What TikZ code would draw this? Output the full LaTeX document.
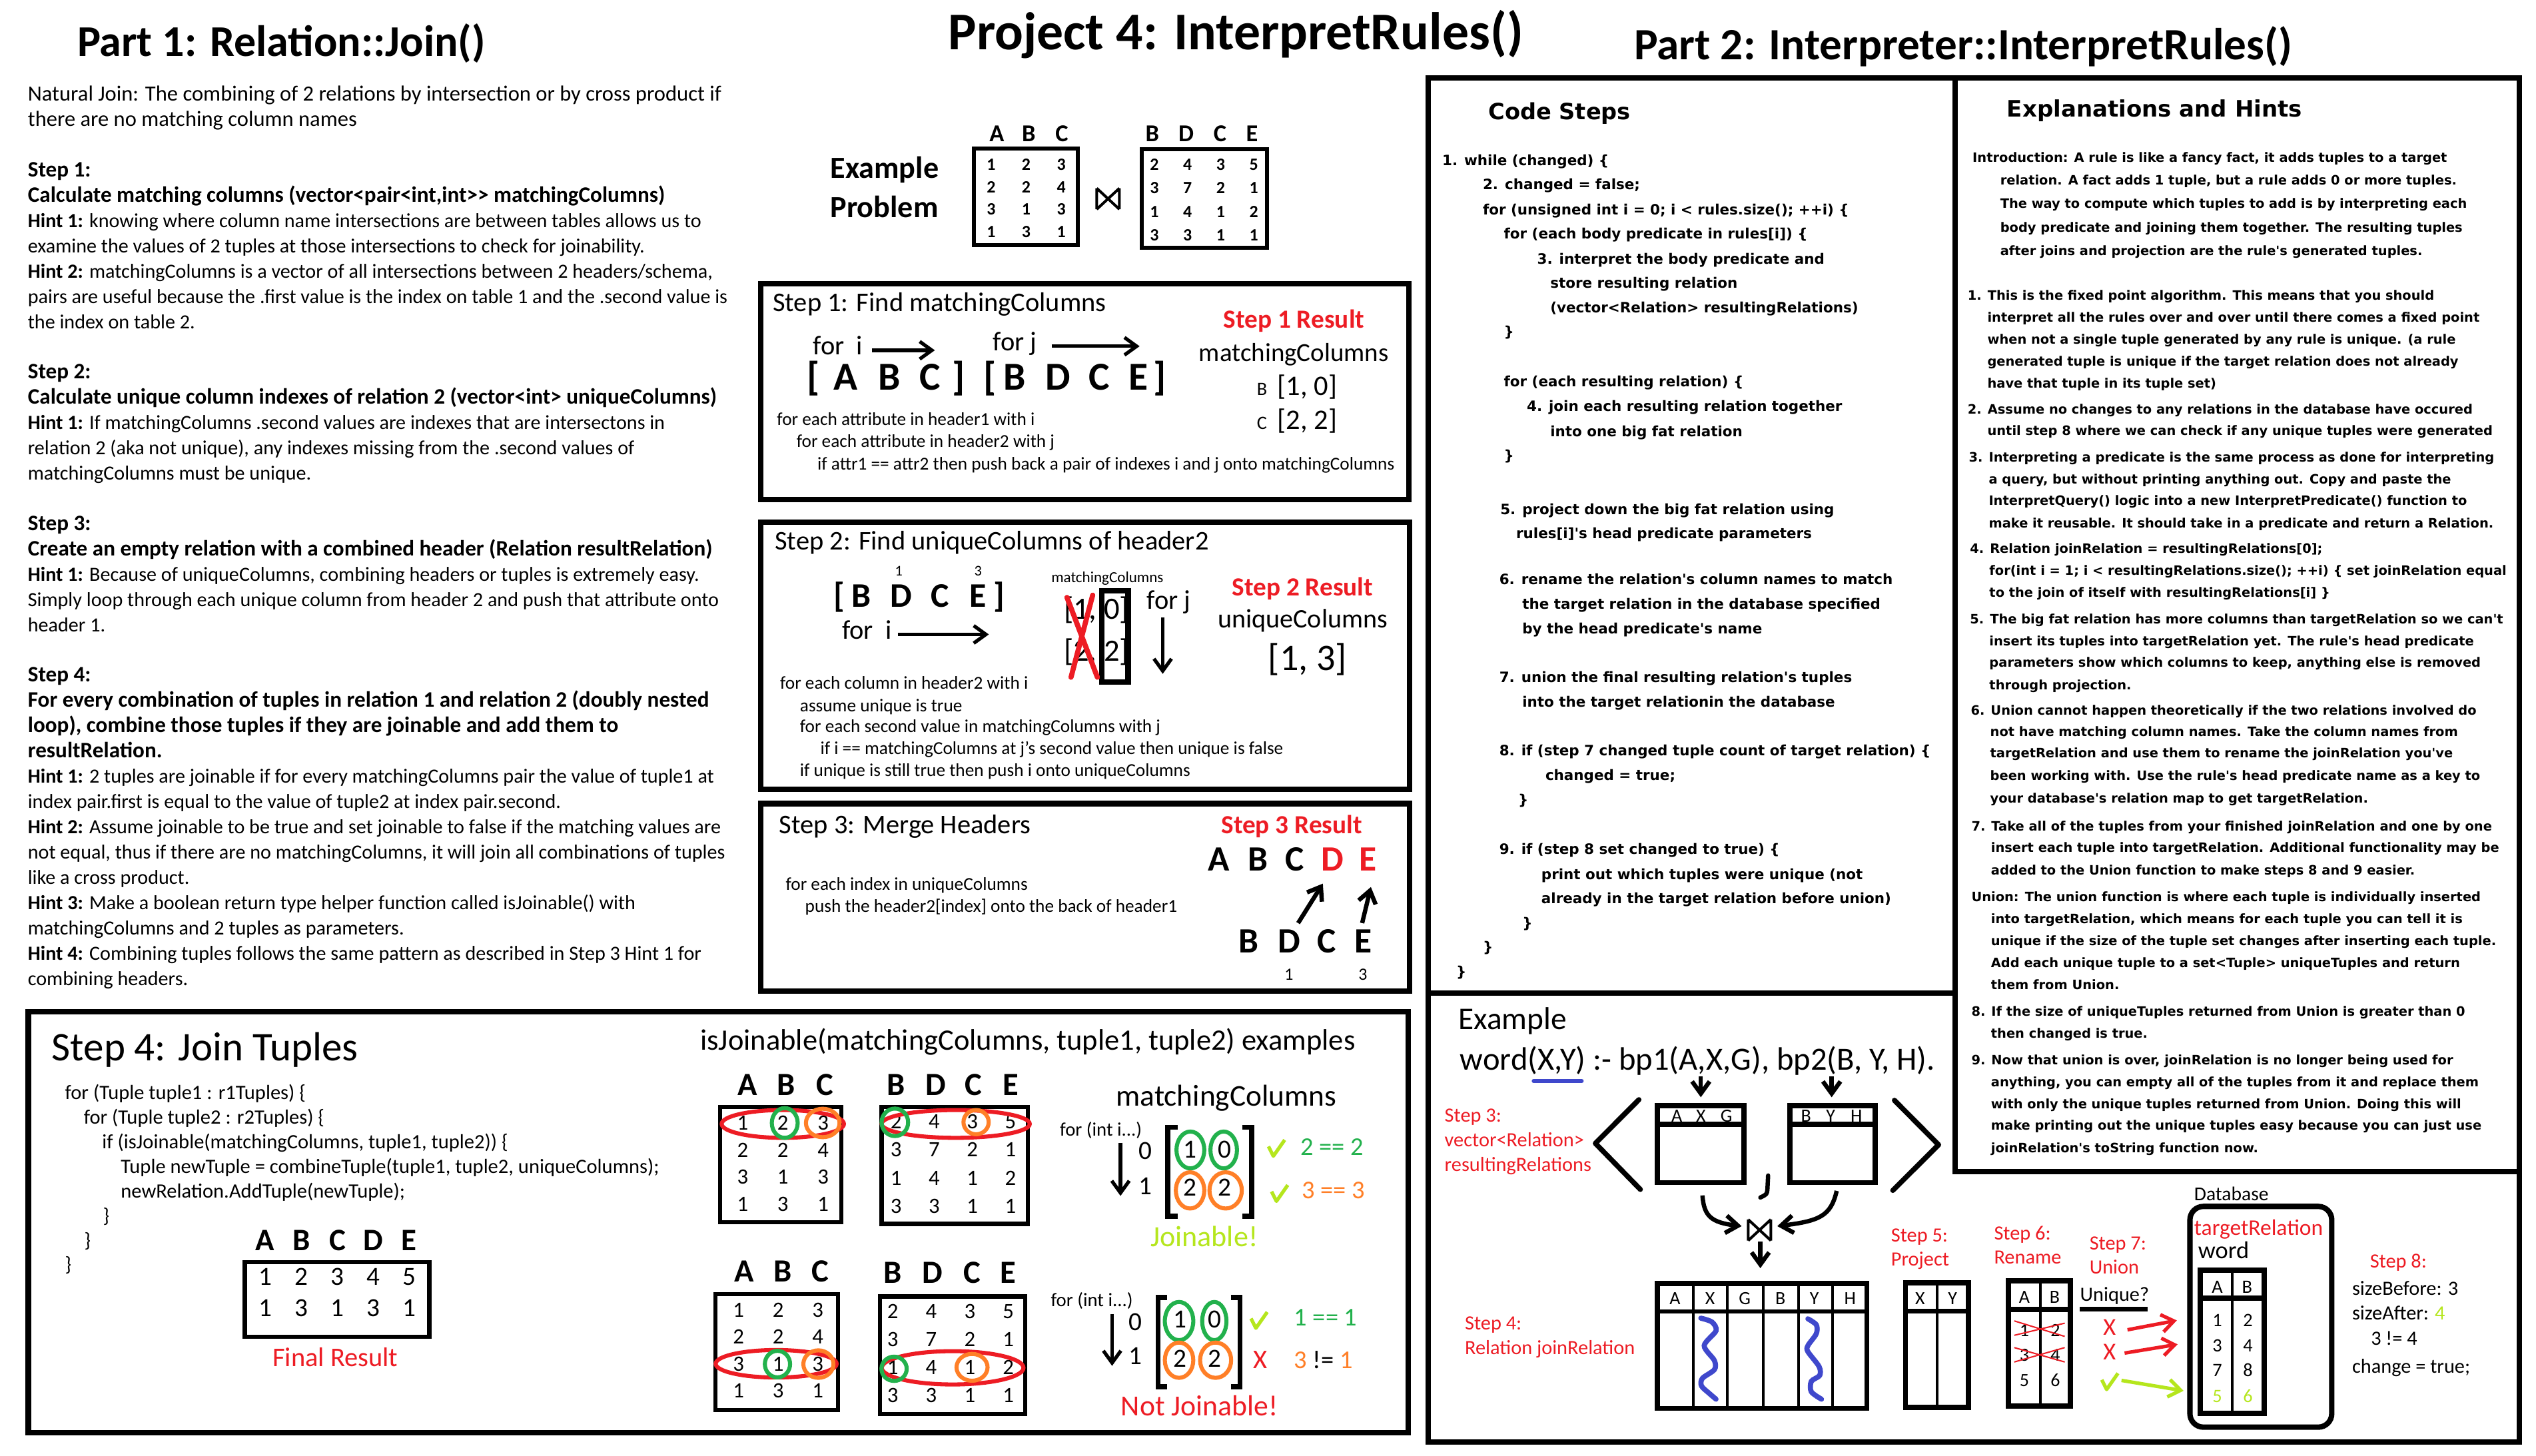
\documentclass[tikz,border=0pt]{standalone}
\usepackage{fontspec}
\setmainfont{Carlito}
\newfontfamily\cs{DejaVu Sans}
\usetikzlibrary{arrows.meta}

\definecolor{pred}{RGB}{237,28,36}
\definecolor{pgreen}{RGB}{34,177,76}
\definecolor{porange}{RGB}{255,127,39}
\definecolor{plime}{RGB}{181,230,29}
\definecolor{pblue}{RGB}{63,72,204}

\newcommand\fsz[1]{\fontsize{#1}{#1}\selectfont}
\newcommand\bl[1]{{\bfseries\fsz{8.2}#1}}
% grid of table values
\newcommand\grid[7][]{%
  \foreach \row [count=\i from 0] in {#7}{%
    \foreach \v [count=\j from 0] in \row
      \node[val,#1] (#2\i\j) at ({#3+\j*#4},{#5+\i*#6}) {\v};}}
% row of column names
\newcommand\hdrow[4][]{%
  \foreach \h/\x in {#4}
    \node[val,#1] (#2\h) at (\x,#3) {\h};}

\tikzset{
  every node/.style={inner sep=0pt},
  lft/.style={anchor=mid west, font=\fsz{7.45}},
  cd/.style={anchor=mid west, font=\cs\bfseries\fsz{5.3}},
  hnt/.style={anchor=mid west, font=\cs\bfseries\fsz{4.8}},
  sm/.style={anchor=mid west, font=\fsz{6.75}},
  stephd/.style={anchor=mid west, font=\fsz{10}},
  reshd/.style={anchor=mid west, font=\bfseries\fsz{9.7}, text=pred},
  redlbl/.style={anchor=mid west, font=\fsz{7.5}, text=pred},
  plain/.style={anchor=mid west, font=\fsz{7.5}},
  val/.style={anchor=mid},
  panel/.style={line width=2pt},
  tbl/.style={line width=1.5pt},
  ring/.style={line width=1.5pt},
  barb/.style={line width=1.3pt, -{Straight Barb[length=4.5pt,width=6.5pt]}},
  chk/.pic={\draw[plime, line width=1.3pt, line join=round] (-5,-1) -- (-2,5) -- (5,-5);},
  joinmark/.pic={\draw[line width=1pt] (-7,-6.5) -- (-7,6.5) (7,-6.5) -- (7,6.5)
    (-7,-6.5) -- (7,6.5) (-7,6.5) -- (7,-6.5);}
}

\begin{document}
\begin{tikzpicture}[x=0.6pt, y=-0.6pt]
\fill[white] (0,0) rectangle (1568,900);
\useasboundingbox (0,0) rectangle (1568,900);

% titles
\node[anchor=mid west, font=\bfseries\fsz{16.3}] (tpart1) at (47.5,31) {Part 1: Relation::Join()};
\node[anchor=mid west, font=\bfseries\fsz{19.7}] (tproj) at (586,26.5) {Project 4: InterpretRules()};
\node[anchor=mid west, font=\bfseries\fsz{16.6}] (tpart2) at (1010,33) {Part 2: Interpreter::InterpretRules()};

% Part 1 text column
\foreach \t [count=\k from 0] in {
  {\fsz{8.05}Natural Join: The combining of 2 relations by intersection or by cross product if},
  {\fsz{8.05}there are no matching column names},{},
  {\bl{Step 1:}},
  {\bl{Calculate matching columns (vector<pair<int,int>\kern0pt> matchingColumns)}},
  {\textbf{Hint 1:} knowing where column name intersections are between tables allows us to},
  {examine the values of 2 tuples at those intersections to check for joinability.},
  {\textbf{Hint 2:} matchingColumns is a vector of all intersections between 2 headers/schema,},
  {pairs are useful because the .first value is the index on table 1 and the .second value is},
  {the index on table 2.},{},
  {\bl{Step 2:}},
  {\bl{Calculate unique column indexes of relation 2 (vector<int> uniqueColumns)}},
  {\textbf{Hint 1:} If matchingColumns .second values are indexes that are intersectons in},
  {relation 2 (aka not unique), any indexes missing from the .second values of},
  {matchingColumns must be unique.},{},
  {\bl{Step 3:}},
  {\bl{Create an empty relation with a combined header (Relation resultRelation)}},
  {\textbf{Hint 1:} Because of uniqueColumns, combining headers or tuples is extremely easy.},
  {Simply loop through each unique column from header 2 and push that attribute onto},
  {header 1.},{},
  {\bl{Step 4:}},
  {\bl{For every combination of tuples in relation 1 and relation 2 (doubly nested}},
  {\bl{loop), combine those tuples if they are joinable and add them to}},
  {\bl{resultRelation.}},
  {\textbf{Hint 1:} 2 tuples are joinable if for every matchingColumns pair the value of tuple1 at},
  {index pair.first is equal to the value of tuple2 at index pair.second.},
  {\textbf{Hint 2:} Assume joinable to be true and set joinable to false if the matching values are},
  {not equal, thus if there are no matchingColumns, it will join all combinations of tuples},
  {like a cross product.},
  {\textbf{Hint 3:} Make a boolean return type helper function called isJoinable() with},
  {matchingColumns and 2 tuples as parameters.},
  {\textbf{Hint 4:} Combining tuples follows the same pattern as described in Step 3 Hint 1 for},
  {combining headers.}}
  \node[lft] (lc\k) at (16.9,{58.5+\k*15.62}) {\t};

% Example problem
\node[anchor=mid west, font=\bfseries\fsz{11.4}] (exa) at (513.1,106.3) {Example};
\node[anchor=mid west, font=\bfseries\fsz{11.4}] (exb) at (513.1,130.4) {Problem};
\hdrow[font=\bfseries\fsz{9}]{pa}{83.4}{A/616.3,B/636.1,C/656.5}
\hdrow[font=\bfseries\fsz{9}]{pb}{83.4}{B/712.5,D/733.4,C/754.3,E/774.1}
\draw[tbl] (602.1,92) rectangle (666.4,151.7);
\draw[tbl] (706.1,92.4) rectangle (783.5,153.1);
\grid[font=\bfseries\fsz{6.4}]{pv}{612.8}{21.7}{101.3}{13.8}{{1,2,3},{2,2,4},{3,1,3},{1,3,1}}
\grid[font=\bfseries\fsz{6.4}]{qv}{713.7}{20.5}{101.3}{14.5}{{2,4,3,5},{3,7,2,1},{1,4,1,2},{3,3,1,1}}
\pic at (685.1,122.9) {joinmark};

% Step 1
\draw[panel] (470.4,175.4) rectangle (871.1,308.9);
\node[stephd] (s1h) at (477.5,188.4) {Step 1: Find matchingColumns};
\node[stephd] (s1i) at (502.4,215.5) {for\ \ i};
\coordinate (s1ie) at (578,216.6);
\draw[barb] (539.1,216.6) -- (s1ie);
\node[stephd] (s1j) at (613.6,212.8) {for j};
\coordinate (s1je) at (704.6,214.1);
\draw[barb] (650.2,214.1) -- (s1je);
\foreach \c/\x [count=\k] in {{[}/502.9,A/523.0,B/549.8,C/575.2,{]}/592.7,{[}/612.2,B/627.5,D/654.3,C/679.7,E/703.8,{]}/717.3}
  \node[val, font=\bfseries\fsz{14.7}] (s1c\k) at (\x,237) {\c};
\node[sm] (s1a) at (480.1,258.8) {for each attribute in header1 with i};
\node[sm] (s1b) at (492.2,272.5) {for each attribute in header2 with j};
\node[sm] (s1c) at (505.1,286.6) {if attr1 == attr2 then push back a pair of indexes i and j onto matchingColumns};
\node[reshd] (s1r) at (756.2,198.7) {Step 1 Result};
\node[anchor=mid west, font=\fsz{9.65}] (s1m) at (741,219.3) {matchingColumns};
\node[val, font=\fsz{7}] (s1bk) at (780.3,240.3) {B};
\node[anchor=mid west, font=\fsz{10.5}] (s1bv) at (789.6,240.3) {[1, 0]};
\node[val, font=\fsz{7}] (s1ck) at (780.3,261.6) {C};
\node[anchor=mid west, font=\fsz{10.5}] (s1cv) at (789.6,261.6) {[2, 2]};

% Step 2
\draw[panel] (470.4,323) rectangle (871.4,488);
\node[stephd] (s2h) at (478.8,336) {Step 2: Find uniqueColumns of header2};
\node[val, font=\fsz{5.5}] (s2n1) at (555.7,352) {1};
\node[val, font=\fsz{5.5}] (s2n3) at (604.7,352) {3};
\foreach \c/\x [count=\k] in {{[}/519.0,B/532.4,D/557.3,C/581.4,E/604.7,{]}/617.6}
  \node[val, font=\bfseries\fsz{12.8}] (s2c\k) at (\x,371.5) {\c};
\node[stephd] (s2i) at (520.3,391.3) {for\ \ i};
\coordinate (s2ie) at (611.4,392.3);
\draw[barb] (555.1,392.3) -- (s2ie);
\node[anchor=mid west, font=\fsz{5.7}] (s2mc) at (649.7,356.3) {matchingColumns};
\node[val, font=\fsz{11.5}] (s2p1) at (677.9,379) {[1, 0]};
\node[val, font=\fsz{11.5}] (s2p2) at (677.9,404.9) {[2, 2]};
\draw[line width=2pt] (681.4,365.4) rectangle (697.5,421.9);
\draw[pred, line width=1.9pt, line cap=round] (659.7,369.4) -- (678.5,418.8) (675.6,368) -- (662.2,418.8);
\node[stephd] (s2j) at (708.8,372.7) {for j};
\coordinate (s2je) at (718.9,416.7);
\draw[barb] (718.9,381.6) -- (s2je);
\node[reshd] (s2r) at (761.5,364.5) {Step 2 Result};
\node[anchor=mid west, font=\fsz{9.9}] (s2u) at (752.7,384.3) {uniqueColumns};
\node[anchor=mid west, font=\fsz{13.9}] (s2v) at (783.8,410.5) {[1, 3]};
\node[sm] (s2a) at (482,422.2) {for each column in header2 with i};
\node[sm] (s2b) at (494.3,436) {assume unique is true};
\node[sm] (s2c) at (494.3,448.9) {for each second value in matchingColumns with j};
\node[sm] (s2d) at (506.9,462.4) {if i == matchingColumns at j's second value then unique is false};
\node[sm] (s2e) at (494.3,476) {if unique is still true then push i onto uniqueColumns};

% Step 3
\draw[panel] (470.4,496.9) rectangle (871.4,613);
\node[stephd] (s3h) at (481.5,511.4) {Step 3: Merge Headers};
\node[sm] (s3a) at (485.5,546.4) {for each index in uniqueColumns};
\node[sm] (s3b) at (497.5,560.1) {push the header2[index] onto the back of header1};
\node[reshd] (s3r) at (754.8,511.4) {Step 3 Result};
\hdrow[font=\bfseries\fsz{13.2}]{s3t}{534.5}{A/753.5,B/777.6,C/800.4}
\hdrow[font=\bfseries\fsz{13.2}, text=pred]{s3t}{534.5}{D/823.7,E/845.9}
\hdrow[font=\bfseries\fsz{13.2}]{s3b}{585.3}{B/772.2,D/796.9,C/820.4,E/842.7}
\node[val, font=\fsz{6.4}] (s3n1) at (796.9,602) {1};
\node[val, font=\fsz{6.4}] (s3n3) at (842.7,602) {3};
\draw[barb, line width=1.6pt] (802.6,570.8) -- (817.9,546.4);
\draw[barb, line width=1.6pt] (842.2,570.8) -- (847.6,548.5);

% Step 4 box
\draw[panel] (17.5,625.8) rectangle (870.8,885.8);
\node[anchor=mid west, font=\fsz{15.1}] (s4h) at (31.7,652) {Step 4: Join Tuples};
\foreach \x/\y/\t [count=\k] in {39.9/676/{for (Tuple tuple1 : r1Tuples) \{},
  51.5/691/{for (Tuple tuple2 : r2Tuples) \{},
  62.8/706.3/{if (isJoinable(matchingColumns, tuple1, tuple2)) \{},
  74.4/721.6/{Tuple newTuple = combineTuple(tuple1, tuple2, uniqueColumns);},
  74.4/736.8/{newRelation.AddTuple(newTuple);},
  63.4/751.9/{\}}, 51.8/767.2/{\}}, 39.9/782.2/{\}}}
  \node[anchor=mid west, font=\fsz{7.55}] (s4c\k) at (\x,\y) {\t};
\hdrow[font=\bfseries\fsz{11.6}]{fr}{769.4}{A/164.0,B/186.6,C/208.7,D/230.8,E/252.9}
\draw[line width=1.7pt] (151.4,780.5) rectangle (265.4,826.6);
\grid[font=\fsz{9.7}]{fv}{164}{22.3}{790.9}{19.1}{{1,2,3,4,5},{1,3,1,3,1}}
\node[anchor=mid west, font=\fsz{10}, text=pred] (frl) at (168.2,841) {Final Result};

% isJoinable examples
\node[anchor=mid west, font=\fsz{11}] (ijh) at (432.7,645.4) {isJoinable(matchingColumns, tuple1, tuple2) examples};
\hdrow[font=\bfseries\fsz{12}]{ja}{673.4}{A/462.4,B/486.1,C/510.1}
\hdrow[font=\bfseries\fsz{12}]{jb}{673.4}{B/554.0,D/578.6,C/601.7,E/624.8}
\draw[tbl] (445.4,684.6) rectangle (520.2,755.9);
\draw[tbl] (545.1,684.6) rectangle (635.7,756.8);
\grid[font=\fsz{8.1}]{jav}{459.2}{24.85}{694.7}{16.8}{{1,2,3},{2,2,4},{3,1,3},{1,3,1}}
\grid[font=\fsz{8.1}]{jbv}{554.0}{23.6}{693.9}{17.5}{{2,4,3,5},{3,7,2,1},{1,4,1,2},{3,3,1,1}}
\draw[ring, pred] (484,695) ellipse [x radius=37.8, y radius=8.6];
\draw[ring, pgreen] (485.2,694.4) ellipse [x radius=8, y radius=9.2];
\draw[ring, porange] (508.7,694.4) ellipse [x radius=10.4, y radius=8.8];
\draw[ring, pred] (590.9,695) ellipse [x radius=45.8, y radius=8.6];
\draw[ring, pgreen] (553.3,694) ellipse [x radius=8.2, y radius=8.5];
\draw[ring, porange] (603.5,693.9) ellipse [x radius=7.8, y radius=7.5];
\node[anchor=mid west, font=\fsz{11.2}] (jmc) at (689.8,680) {matchingColumns};
\node[anchor=mid west, font=\fsz{7.1}] (jf1) at (655,698.5) {for (int i...)};
\coordinate (ja1) at (692.8,739.5);
\draw[barb] (692.8,706.6) -- (ja1);
\node[val, font=\fsz{9.7}] (ji0) at (708.1,712.9) {0};
\node[val, font=\fsz{9.7}] (ji1) at (708.1,734.6) {1};
\draw[line width=1.9pt] (728,697.1) -- (722,697.1) -- (722,752.2) -- (728,752.2);
\draw[line width=1.9pt] (768,697.1) -- (774,697.1) -- (774,752.2) -- (768,752.2);
\grid[font=\fsz{9.7}]{jm}{735.6}{21.5}{712.1}{23.4}{{1,0},{2,2}}
\draw[ring, pgreen] (736,711.1) ellipse [x radius=8.6, y radius=11.4];
\draw[ring, pgreen] (756.6,711.1) ellipse [x radius=8.2, y radius=11.4];
\draw[ring, porange] (735.8,736.1) ellipse [x radius=8.8, y radius=11.2];
\draw[ring, porange] (757.8,736.1) ellipse [x radius=10, y radius=11.2];
\pic at (789.3,709.9) {chk};
\pic at (791.2,737.8) {chk};
\node[anchor=mid west, font=\fsz{9.5}, text=pgreen] (jq1) at (803.8,710.3) {2 == 2};
\node[anchor=mid west, font=\fsz{9.5}, text=porange] (jq2) at (804.5,737.2) {3 == 3};
\node[anchor=mid west, font=\fsz{10.9}, text=plime] (jok) at (711,767) {Joinable!};

\hdrow[font=\bfseries\fsz{12}]{ka}{788.6}{A/460.2,B/484.1,C/507.0}
\hdrow[font=\bfseries\fsz{12}]{kb}{789.5}{B/552.0,D/576.5,C/601.0,E/623.3}
\draw[tbl] (442.5,800.3) rectangle (518.2,872.1);
\draw[tbl] (544.2,801.7) rectangle (633.7,874.2);
\grid[font=\fsz{8.1}]{kav}{456.6}{24.5}{810.5}{16.6}{{1,2,3},{2,2,4},{3,1,3},{1,3,1}}
\grid[font=\fsz{8.1}]{kbv}{552.0}{23.8}{811.4}{17.3}{{2,4,3,5},{3,7,2,1},{1,4,1,2},{3,3,1,1}}
\draw[ring, pred] (479.9,843.3) ellipse [x radius=37.4, y radius=8.5];
\draw[ring, pgreen] (480.7,843.5) ellipse [x radius=7.8, y radius=8.2];
\draw[ring, porange] (506,843.5) ellipse [x radius=9.3, y radius=8.5];
\draw[ring, pred] (589,845.8) ellipse [x radius=43.8, y radius=10.3];
\draw[ring, pgreen] (552.8,846.4) ellipse [x radius=7.8, y radius=7.5];
\draw[ring, porange] (601,845.5) ellipse [x radius=9.6, y radius=8.3];
\node[anchor=mid west, font=\fsz{7.1}] (kf1) at (649.4,803.9) {for (int i...)};
\coordinate (ka1) at (687.6,844.6);
\draw[barb] (687.6,812.6) -- (ka1);
\node[val, font=\fsz{9.7}] (ki0) at (702.2,818.6) {0};
\node[val, font=\fsz{9.7}] (ki1) at (702.2,839.9) {1};
\draw[line width=1.9pt] (721.5,802.2) -- (716,802.2) -- (716,857.6) -- (721.5,857.6);
\draw[line width=1.9pt] (761,802.2) -- (766.7,802.2) -- (766.7,857.6) -- (761,857.6);
\grid[font=\fsz{9.7}]{km}{729.8}{21.1}{816.9}{24.3}{{1,0},{2,2}}
\draw[ring, pgreen] (729,816.9) ellipse [x radius=8.8, y radius=11.8];
\draw[ring, pgreen] (750.8,816.9) ellipse [x radius=7.5, y radius=11.8];
\draw[ring, porange] (729,841.1) ellipse [x radius=8.8, y radius=10.9];
\draw[ring, porange] (751.6,841.1) ellipse [x radius=9.6, y radius=10.9];
\pic at (778.5,816.3) {chk};
\node[anchor=mid west, font=\fsz{9.5}, text=pgreen] (kq1) at (799.8,816) {1 == 1};
\node[val, font=\fsz{10}, text=pred] (kx) at (779.4,842) {X};
\node[anchor=mid west, font=\fsz{9.5}] (kq2) at (799.8,842) {\textcolor{porange}{3} != \textcolor{porange}{1}};
\node[anchor=mid west, font=\fsz{10.8}, text=pred] (kno) at (692.8,871.5) {Not Joinable!};

% Part 2 frame
\draw[panel] (883,48) rectangle (1557.5,891.7);
\draw[panel] (1209,48) -- (1209,724.6) -- (1557.5,724.6);
\draw[panel] (883,614) -- (1209,614);

% Code Steps
\node[anchor=mid west, font=\cs\bfseries\fsz{8.3}] (csh) at (920,70) {Code Steps};
\foreach \x/\y/\t [count=\k] in {
  891.4/98.2/{1. while (changed) \{},
  916.5/113.3/{2. changed = false;},
  916.5/128.7/{for (unsigned int i = 0; i < rules.size(); ++i) \{},
  929.5/143.8/{for (each body predicate in rules[i]) \{},
  950.1/159.2/{3. interpret the body predicate and},
  958.2/174.3/{store resulting relation},
  958.2/189.4/{(vector<Relation> resultingRelations)},
  929.5/204.4/{\}},
  929.5/235.3/{for (each resulting relation) \{},
  943.7/250.4/{4. join each resulting relation together},
  958.2/265.9/{into one big fat relation},
  929.5/280.9/{\}},
  927.3/314.0/{5. project down the big fat relation using},
  937.1/329.1/{rules[i]'s head predicate parameters},
  926.7/357.4/{6. rename the relation's column names to match},
  940.9/372.5/{the target relation in the database specified},
  940.9/388.0/{by the head predicate's name},
  926.7/418.1/{7. union the final resulting relation's tuples},
  940.9/433.2/{into the target relationin the database},
  926.7/463.3/{8. if (step 7 changed tuple count of target relation) \{},
  955.2/478.4/{changed = true;},
  938.4/493.9/{\}},
  926.7/524.4/{9. if (step 8 set changed to true) \{},
  952.7/539.8/{print out which tuples were unique (not},
  952.7/554.9/{already in the target relation before union)},
  940.9/570.0/{\}},
  916.5/584.7/{\}},
  900.1/600.1/{\}}}
  \node[cd] (cs\k) at (\x,\y) {\t};

% Explanations and Hints
\node[anchor=mid west, font=\cs\bfseries\fsz{8.4}] (exh) at (1240.6,68.5) {Explanations and Hints};
\foreach \x/\y/\t [count=\k] in {
  1219.3/96.2/{Introduction: A rule is like a fancy fact, it adds tuples to a target},
  1236.4/110.5/{relation. A fact adds 1 tuple, but a rule adds 0 or more tuples.},
  1236.4/124.8/{The way to compute which tuples to add is by interpreting each},
  1236.4/139.6/{body predicate and joining them together. The resulting tuples},
  1236.4/153.9/{after joins and projection are the rule's generated tuples.},
  1216.3/181.6/{1. This is the fixed point algorithm. This means that you should},
  1228.5/195.0/{interpret all the rules over and over until there comes a fixed point},
  1228.5/208.9/{when not a single tuple generated by any rule is unique. (a rule},
  1228.5/222.3/{generated tuple is unique if the target relation does not already},
  1228.5/235.8/{have that tuple in its tuple set)},
  1216.3/251.8/{2. Assume no changes to any relations in the database have occured},
  1228.5/265.3/{until step 8 where we can check if any unique tuples were generated},
  1217.0/281.7/{3. Interpreting a predicate is the same process as done for interpreting},
  1229.3/295.2/{a query, but without printing anything out. Copy and paste the},
  1229.3/308.6/{InterpretQuery() logic into a new InterpretPredicate() function to},
  1229.3/322.5/{make it reusable. It should take in a predicate and return a Relation.},
  1217.7/338.0/{4. Relation joinRelation = resultingRelations[0];},
  1229.7/351.5/{for(int i = 1; i < resultingRelations.size(); ++i) \{ set joinRelation equal},
  1229.7/365.4/{to the join of itself with resultingRelations[i] \}},
  1217.7/381.8/{5. The big fat relation has more columns than targetRelation so we can't},
  1229.7/395.3/{insert its tuples into targetRelation yet. The rule's head predicate},
  1229.7/408.7/{parameters show which columns to keep, anything else is removed},
  1229.7/422.6/{through projection.},
  1218.2/438.2/{6. Union cannot happen theoretically if the two relations involved do},
  1230.2/451.2/{not have matching column names. Take the column names from},
  1230.2/464.6/{targetRelation and use them to rename the joinRelation you've},
  1230.2/478.5/{been working with. Use the rule's head predicate name as a key to},
  1230.2/492.4/{your database's relation map to get targetRelation.},
  1218.6/509.7/{7. Take all of the tuples from your finished joinRelation and one by one},
  1230.7/523.1/{insert each tuple into targetRelation. Additional functionality may be},
  1230.7/537.0/{added to the Union function to make steps 8 and 9 easier.},
  1218.6/553.5/{Union: The union function is where each tuple is individually inserted},
  1230.7/566.9/{into targetRelation, which means for each tuple you can tell it is},
  1230.7/580.8/{unique if the size of the tuple set changes after inserting each tuple.},
  1230.7/594.2/{Add each unique tuple to a set<Tuple> uniqueTuples and return},
  1230.7/607.7/{them from Union.},
  1218.6/624.2/{8. If the size of uniqueTuples returned from Union is greater than 0},
  1230.7/638.0/{then changed is true.},
  1218.6/654.5/{9. Now that union is over, joinRelation is no longer being used for},
  1230.7/667.9/{anything, you can empty all of the tuples from it and replace them},
  1230.7/681.4/{with only the unique tuples returned from Union. Doing this will},
  1230.7/694.8/{make printing out the unique tuples easy because you can just use},
  1230.7/708.7/{joinRelation's toString function now.}}
  \node[hnt] (eh\k) at (\x,\y) {\t};

% Example (bottom right)
\node[anchor=mid west, font=\fsz{11.7}] (ex) at (901.4,632.5) {Example};
\node[anchor=mid west, font=\fsz{12}] (rule) at (902.4,657.5) {word(X,Y) :- bp1(A,X,G), bp2(B, Y, H).};
\draw[pblue, line width=1.4pt, line cap=round] (948.2,668.4) -- (978,668.4);
\node[redlbl] (e3a) at (892.9,689.6) {Step 3:};
\node[redlbl] (e3b) at (892.9,705.2) {vector<Relation>};
\node[redlbl] (e3c) at (892.9,720.4) {resultingRelations};
\draw[line width=1.9pt, line cap=round, line join=round] (1013.3,680) -- (986.4,707) -- (1014.2,735.5);
\draw[line width=1.9pt, line cap=round, line join=round] (1171.3,680.4) -- (1198.6,707.9) -- (1170.3,736.1);
% body predicate relations
\draw[line width=1.9pt] (1024.8,683.8) rectangle (1078.3,731.2);
\draw[line width=1.9pt] (1024.8,695.1) -- (1078.3,695.1);
\hdrow[font=\fsz{6.9}]{ra}{689.6}{A/1036.8,X/1051.6,G/1067.4}
\draw[line width=1.9pt] (1106.8,683.8) rectangle (1159.3,731.2);
\draw[line width=1.9pt] (1106.8,695.1) -- (1159.3,695.1);
\hdrow[font=\fsz{6.9}]{rb}{689.6}{B/1116.7,Y/1131.9,H/1147.8}
\coordinate (bp1t) at (1051.6,678.5);
\coordinate (bp2t) at (1132.5,678.5);
\draw[barb, line width=1.6pt] (1051.6,665.6) -- (bp1t);
\draw[barb, line width=1.6pt] (1132.5,665.6) -- (bp2t);
\draw[line width=1.6pt, line cap=round] (1093.2,726.9) -- (1092.8,735) .. controls (1092.5,738.5) .. (1088.4,740.5);
% join
\pic at (1087.9,760.6) {joinmark};
\coordinate (jl) at (1076.8,758.2);
\coordinate (jr) at (1098.9,758.2);
\draw[barb, line width=1.6pt] (1052.6,739.2) .. controls (1053.5,752) and (1058,756) .. (jl);
\draw[barb, line width=1.6pt] (1135.6,736.4) .. controls (1132,752) and (1125,755) .. (jr);
\coordinate (jd) at (1088.4,784.2);
\draw[barb, line width=1.6pt] (1088.4,767.7) -- (jd);
% joinRelation
\node[redlbl] (e4a) at (905.4,818.2) {Step 4:};
\node[redlbl] (e4b) at (905.4,833.6) {Relation joinRelation};
\draw[line width=1.9pt] (1024.8,793.6) rectangle (1154.2,870.9);
\draw[line width=1.3pt] (1024.8,811) -- (1154.2,811);
\foreach \x in {1046.9,1068.0,1090.4,1112.1,1132.9}
  \draw[line width=1pt] (\x,793.6) -- (\x,870.9);
\hdrow[font=\fsz{6.9}]{jr}{802.8}{A/1035.6,X/1057.3,G/1078.7,B/1100.8,Y/1121.8,H/1143.9}
\draw[pblue, line width=1.9pt, line cap=round] plot[smooth] coordinates {(1051.6,815.1) (1058.5,817.5) (1061,822.9) (1053.7,832.1) (1060,841.3) (1060,846.9) (1052.6,852.3) (1052,857) (1056.8,861.6) (1061,865.2)};
\draw[pblue, line width=1.9pt, line cap=round] plot[smooth] coordinates {(1117.8,815.5) (1123,819.2) (1123,824.7) (1117.8,832.1) (1117.8,835.8) (1124.7,845) (1125.1,850.5) (1119.9,854.2) (1119.9,860.6) (1126.2,865.2)};
% project
\node[redlbl] (e5a) at (1168.9,764) {Step 5:};
\node[redlbl] (e5b) at (1168.9,778.7) {Project};
\draw[line width=1.9pt] (1178.2,793.2) rectangle (1217.2,870.4);
\draw[line width=1.9pt] (1178.2,810.8) -- (1217.2,810.8);
\draw[line width=1pt] (1197.6,793.2) -- (1197.6,870.4);
\hdrow[font=\fsz{6.9}]{pj}{802.8}{X/1187.2,Y/1207.3}
% rename
\node[redlbl] (e6a) at (1232.6,762.6) {Step 6:};
\node[redlbl] (e6b) at (1232.6,777.7) {Rename};
\draw[line width=2pt] (1241.8,792.2) rectangle (1280.2,869.4);
\draw[line width=2pt] (1241.8,809.9) -- (1280.2,809.9);
\draw[line width=1pt] (1261.6,792.2) -- (1261.6,869.4);
\hdrow[font=\fsz{6.9}]{rn}{801.7}{A/1251.6,B/1270.4}
\grid[font=\fsz{6.9}]{rnv}{1251.6}{19.2}{822.4}{15.4}{{1,2},{3,4},{5,6}}
\draw[pred, line width=0.5pt] (1245.4,816.8) -- (1276.6,826.4) (1245.4,825.7) -- (1276.6,818.2)
  (1245.4,833.3) -- (1276.6,842.2) (1245.4,842.2) -- (1276.6,833.3);
% union
\node[redlbl] (e7a) at (1291.6,768.8) {Step 7:};
\node[redlbl] (e7b) at (1291.6,783.9) {Union};
\node[plain] (uq) at (1285.8,800.4) {Unique?};
\draw[line width=1.6pt] (1285.8,809.6) -- (1327.9,809.6);
\node[val, font=\fsz{9}, text=pred] (ux1) at (1304.3,821.6) {X};
\node[val, font=\fsz{9}, text=pred] (ux2) at (1304.3,836.7) {X};
\pic at (1304.5,854.2) {chk};
\coordinate (ua1) at (1345.9,816.5);
\coordinate (ua2) at (1346.4,831.3);
\coordinate (ua3) at (1350.1,860);
\draw[barb, pred] (1315.4,822.3) -- (ua1);
\draw[barb, pred] (1313.6,836.7) -- (ua2);
\draw[barb, plime] (1311.7,853.6) -- (ua3);
% database
\node[anchor=mid west, font=\fsz{7.3}] (db) at (1356.3,738.6) {Database};
\draw[line width=2pt, rounded corners=5pt] (1354,746) rectangle (1441.7,882.5);
\node[anchor=mid west, font=\fsz{8.3}, text=pred] (tr) at (1356.3,759.9) {targetRelation};
\node[anchor=mid west, font=\fsz{9}] (wd) at (1358.8,774.3) {word};
\draw[line width=2pt] (1360.3,785.3) rectangle (1399.8,874.1);
\draw[line width=2pt] (1360.3,802.7) -- (1399.8,802.7);
\draw[line width=1pt] (1380.1,785.3) -- (1380.1,874.1);
\hdrow[font=\fsz{7}]{dbh}{795.6}{A/1370.9,B/1389.4}
\grid[font=\fsz{7}]{dbv}{1370.9}{19}{816.2}{15.5}{{1,2},{3,4},{7,8}}
\grid[font=\fsz{7}, text=plime]{dbn}{1370.9}{19}{863.3}{15.5}{{5,6}}
% step 8
\node[redlbl] (e8) at (1465,779.8) {Step 8:};
\node[plain] (sb) at (1454,796.9) {sizeBefore: 3};
\node[plain] (sa) at (1454,812) {sizeAfter: \textcolor{plime}{4}};
\node[plain] (sn) at (1465.6,827.6) {3 != 4};
\node[plain] (ch) at (1454,845.1) {change = true;};
\end{tikzpicture}
\end{document}
